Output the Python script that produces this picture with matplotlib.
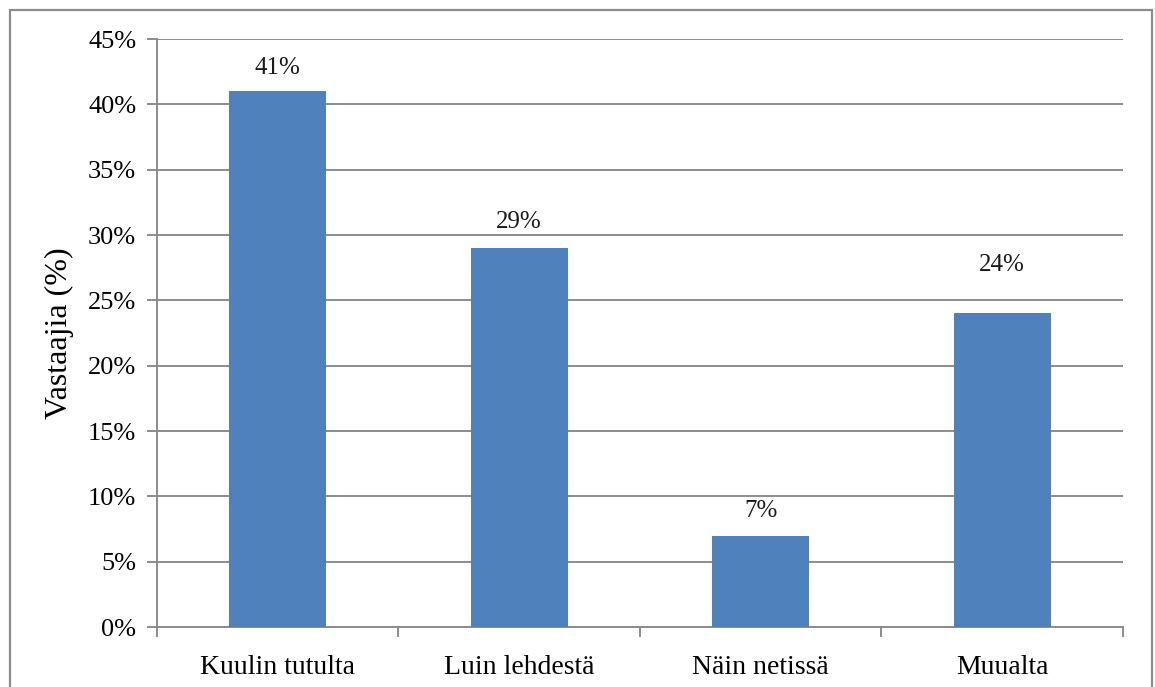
import matplotlib.pyplot as plt
from matplotlib.patches import Rectangle
from matplotlib.ticker import PercentFormatter

categories = ['Kuulin tutulta', 'Luin lehdestä', 'Näin netissä', 'Muualta']
shares = [41, 29, 7, 24]

BAR_COLOR = '#4F81BD'
GRID_COLOR = '#8C8C8C'
# extra lift for the last label, placed higher by hand
label_lift = [1.8, 2.0, 1.9, 3.7]

plt.rcParams['font.family'] = ['Liberation Serif', 'DejaVu Serif']

fig = plt.figure(figsize=(11.55, 6.87), dpi=100)
ax = fig.add_axes([0.1359, 0.0873, 0.8364, 0.8559])

x = range(len(categories))
ax.bar(x, shares, width=0.4, color=BAR_COLOR, zorder=3)

for i, v in enumerate(shares):
    ax.text(i, v + label_lift[i], f'{v}%', ha='center', va='center', fontsize=18, color='#1a1a1a')

ax.set_xlim(-0.5, len(categories) - 0.5)
ax.set_ylim(0, 45)
ax.set_yticks(range(0, 46, 5))
ax.yaxis.set_major_formatter(PercentFormatter(decimals=0))
ax.set_xticks(x)
ax.set_xticklabels(categories)
ax.set_xticks([i - 0.5 for i in range(len(categories) + 1)], minor=True)

ax.grid(axis='y', color=GRID_COLOR, linewidth=1.4, zorder=0)
for side in ('top', 'right'):
    ax.spines[side].set_visible(False)
for side in ('left', 'bottom'):
    ax.spines[side].set_color(GRID_COLOR)
    ax.spines[side].set_linewidth(1.4)

ax.tick_params(axis='y', length=7, width=1.4, color=GRID_COLOR, labelsize=19, pad=8)
ax.tick_params(axis='x', which='major', length=0, labelsize=20, pad=20)
ax.tick_params(axis='x', which='minor', length=7, width=1.4, color=GRID_COLOR)

ax.set_ylabel('Vastaajia (%)', fontsize=23, labelpad=10)

# frame around the whole chart area
fig.patches.append(Rectangle((10 / 1155, -0.05), 1142 / 1155, 1.05 - 10 / 687,
                             transform=fig.transFigure, fill=False,
                             edgecolor=GRID_COLOR, linewidth=1.6))

fig.savefig('out.png', dpi=100)
